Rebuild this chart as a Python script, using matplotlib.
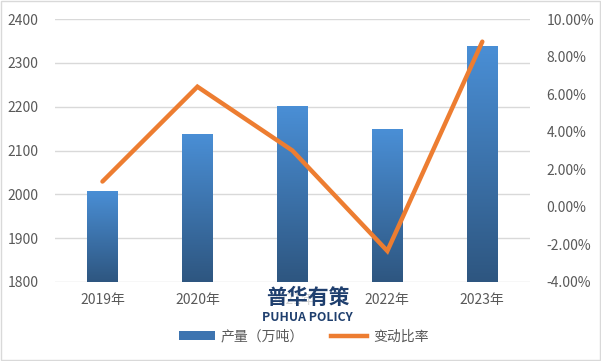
import matplotlib
matplotlib.use("Agg")
import matplotlib.pyplot as plt
import numpy as np
from matplotlib.patches import Patch, Rectangle
from matplotlib.lines import Line2D
from matplotlib.colors import LinearSegmentedColormap
from matplotlib.ticker import FuncFormatter

plt.rcParams['font.family'] = ['Noto Sans CJK SC', 'DejaVu Sans']

years = ["2019年", "2020年", "2021年", "2022年", "2023年"]
output = [2008, 2138, 2202, 2149, 2339]          # 产量（万吨）
change = [1.35, 6.4, 3.0, -2.35, 8.8]             # 变动比率 (%)

GRAY = "#595959"
ORANGE = "#ED7D31"
NAVY = "#1F3F6E"
grad = LinearSegmentedColormap.from_list("bar", ["#2E5680", "#4A8FD6"])

fig = plt.figure(figsize=(6.01, 3.61), dpi=100)
ax = fig.add_axes([0.0915, 0.219, 0.79, 0.728])
ax2 = ax.twinx()

x = np.arange(len(years))
bw = 0.32
bars = ax.bar(x, output, width=bw, color="none", zorder=2)
ramp = np.linspace(0, 1, 256).reshape(-1, 1)
for b in bars:
    x0, y1 = b.get_x(), b.get_height()
    im = ax.imshow(ramp, cmap=grad, origin="lower", aspect="auto",
                   extent=[x0, x0 + bw, 1800, y1], zorder=2)
    clip = Rectangle((x0, 1800), bw, y1 - 1800, transform=ax.transData)
    im.set_clip_path(clip)

ax.set_xlim(-0.5, len(years) - 0.5)
ax.set_ylim(1800, 2400)
ax.set_yticks(range(1800, 2401, 100))
ax.set_xticks(x)
ax.set_xticklabels(years)
ax.grid(axis="y", color="#D9D9D9", linewidth=1, zorder=0)
ax.set_axisbelow(True)
for s in ax.spines.values():
    s.set_visible(False)
for s in ax2.spines.values():
    s.set_visible(False)
ax.tick_params(length=0, colors=GRAY, labelsize=10, pad=8)
ax.tick_params(axis="y", pad=12)

ax2.plot(x, change, color=ORANGE, linewidth=3.2, solid_capstyle="round",
         solid_joinstyle="miter", zorder=3)
ax2.set_ylim(-4, 10)
ax2.set_yticks(range(-4, 11, 2))
ax2.yaxis.set_major_formatter(FuncFormatter(lambda v, p: f"{v:.2f}%"))
ax2.tick_params(length=0, colors=GRAY, labelsize=10, pad=12)

# watermark logo sitting over the 2021 label, as in the source image
fig.text(0.512, 0.175, "普华有策", ha="center", va="center", fontsize=15,
         fontweight="bold", color=NAVY, zorder=10,
         bbox=dict(facecolor="white", edgecolor="none", alpha=0.75, pad=0.5))
fig.text(0.512, 0.121, "PUHUA POLICY", ha="center", va="center", fontsize=8.8,
         fontweight="bold", color=NAVY, zorder=10)

handles = [Patch(facecolor="#3D74B0", edgecolor="none"),
           Line2D([0], [0], color=ORANGE, linewidth=3.2)]
fig.legend(handles, ["产量（万吨）", "变动比率"], loc="center",
           bbox_to_anchor=(0.505, 0.068), ncol=2, frameon=False, fontsize=10,
           labelcolor=GRAY, handlelength=2.6, handleheight=0.6,
           columnspacing=2.0, handletextpad=0.4)

fig.patches.append(Rectangle((0.001, 0.002), 0.997, 0.995, transform=fig.transFigure,
                             fill=False, edgecolor="#D9D9D9", linewidth=1))

fig.savefig("out.png", dpi=100)
